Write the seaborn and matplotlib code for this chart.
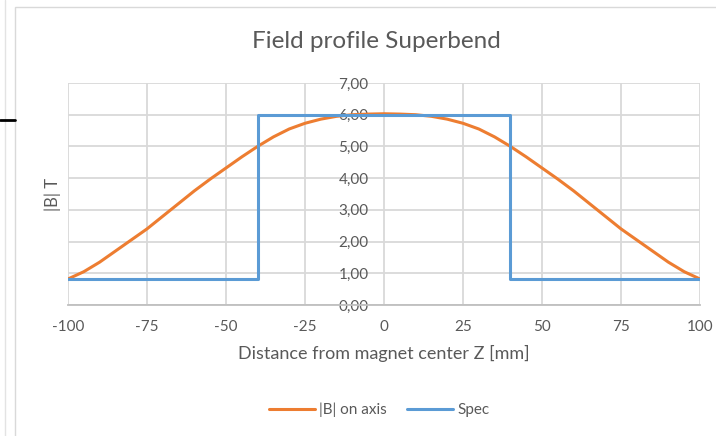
import matplotlib
matplotlib.use("Agg")
import matplotlib.pyplot as plt
import matplotlib.ticker as mticker
from matplotlib.lines import Line2D
import seaborn as sns
import pandas as pd

# ---- data ----
z_axis = [-100, -95, -90, -85, -80, -75, -70, -65, -60, -55, -50, -45, -40, -35, -30,
          -25, -20, -15, -10, -5, 0, 5, 10, 15, 20, 25, 30, 35, 40, 45, 50, 55, 60,
          65, 70, 75, 80, 85, 90, 95, 100]
b_axis = [0.82, 1.05, 1.35, 1.70, 2.05, 2.40, 2.80, 3.20, 3.60, 3.97, 4.32, 4.67, 5.00,
          5.30, 5.55, 5.73, 5.86, 5.95, 6.00, 6.02, 6.03, 6.02, 6.00, 5.95, 5.86, 5.73,
          5.55, 5.30, 5.00, 4.67, 4.32, 3.97, 3.60, 3.20, 2.80, 2.40, 2.05, 1.70, 1.35,
          1.05, 0.82]
z_spec = [-100, -40, -40, 40, 40, 100]
b_spec = [0.82, 0.82, 6.0, 6.0, 0.82, 0.82]
x_ticks = [-100, -75, -50, -25, 0, 25, 50, 75, 100]
y_ticks = [0, 1, 2, 3, 4, 5, 6, 7]
series_names = ["|B| on axis", "Spec"]
series_colors = ["#ED7D31", "#5B9BD5"]
title = "Field profile Superbend"
xlabel = "Distance from magnet center Z [mm]"
ylabel = "|B| T"

sns.set_theme(style="white")
plt.rcParams["font.family"] = ["Lato", "DejaVu Sans"]
plt.rcParams["axes.unicode_minus"] = False

TXT = "#595959"
W, H = 716, 436
fig = plt.figure(figsize=(W / 100, H / 100), dpi=100)
L, R, T, B = 68, 700, 83, 305
ax = fig.add_axes([L / W, 1 - B / H, (R - L) / W, (B - T) / H])

df_axis = pd.DataFrame({"z": z_axis, "B": b_axis})
df_spec = pd.DataFrame({"z": z_spec, "B": b_spec})

sns.lineplot(data=df_axis, x="z", y="B", ax=ax, color=series_colors[0], lw=2.2,
             estimator=None, sort=False, zorder=3)
sns.lineplot(data=df_spec, x="z", y="B", ax=ax, color=series_colors[1], lw=2.2,
             estimator=None, sort=False, zorder=4)

ax.set_xlim(-100, 100)
ax.set_ylim(0, 7)
ax.set_xticks(x_ticks)
ax.set_yticks(y_ticks)
ax.yaxis.set_major_formatter(mticker.FuncFormatter(lambda v, p: f"{v:.2f}".replace(".", ",")))
ax.grid(True, color="#D9D9D9", lw=1.3)
ax.set_axisbelow(True)
for s in ["top", "right"]:
    ax.spines[s].set_visible(False)
ax.spines["left"].set_position(("data", 0))
ax.spines["left"].set_color("none")
ax.spines["bottom"].set_color("#BFBFBF")
ax.spines["bottom"].set_linewidth(1.3)
ax.tick_params(axis="y", length=0, pad=11, labelsize=11, labelcolor=TXT)
ax.tick_params(axis="x", length=0, pad=11, labelsize=11, labelcolor=TXT)
ax.set_xlabel(xlabel, fontsize=13, color=TXT, labelpad=8)
ax.set_ylabel("")
fig.text(53 / W, 1 - 194 / H, ylabel, rotation=90, ha="center", va="center",
         fontsize=12, color=TXT)

fig.text(376 / W, 1 - 42 / H, title, ha="center", va="center", fontsize=17.5, color=TXT)

handles = [Line2D([], [], color=c, lw=2.2) for c in series_colors]
fig.legend(handles, series_names, loc="center", bbox_to_anchor=(379 / W, 1 - 410 / H),
           ncol=2, frameon=False, fontsize=11, labelcolor=TXT, handlelength=3.0,
           handletextpad=0.3, columnspacing=1.3)

# outer chart frame
fig.add_artist(plt.Rectangle((15 / W, -0.01), 1.0, 1 - 7 / H + 0.01, transform=fig.transFigure,
                             fill=False, edgecolor="#D9D9D9", lw=1.0))
fig.add_artist(Line2D([5 / W, 5 / W], [0, 1], transform=fig.transFigure, color="#E3E3E3", lw=1.0))
fig.add_artist(Line2D([0, 15 / W], [1 - 120 / H, 1 - 120 / H], transform=fig.transFigure,
                      color="black", lw=2.0))

fig.savefig("out.png", dpi=100)
